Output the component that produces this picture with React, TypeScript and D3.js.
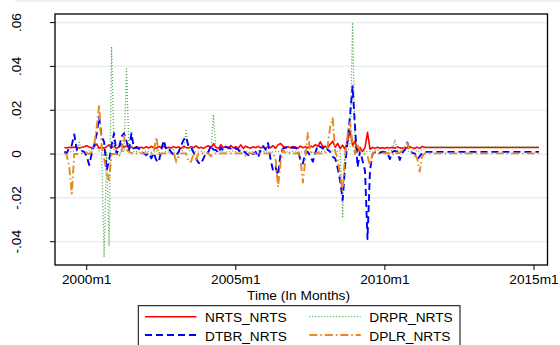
import React from "react";
import * as d3 from "d3";

// month index 0 = 2000m1; first observation is 1999m4
const START_MONTH = -9;

const NRTS_NRTS = [
  .003,.0028,.0031,.0029,.0032,.003,.0028,.0031,.0033,
  .0038,.0032,.0028,.0035,.0046,.0026,.0032,.0027,.0034,.0042,.0028,.0036,
  .0025,.0033,.0046,.003,.0038,.0027,.0032,.0026,.0034,.0029,.0031,.0027,
  .0033,.0028,.0035,.0029,.0026,.0034,.003,.0036,.0027,.0031,.0028,.0034,
  .0029,.0033,.0026,.0035,.003,.0027,.0034,.0029,.0037,.0028,.0031,.0026,
  .0033,.0038,.0027,.0047,.0031,.0026,.0043,.0029,.0035,.0025,.0039,.0028,
  .0034,.0027,.0042,.0026,.0036,.003,.0027,.0033,.0029,.0035,.0028,.0032,
  .0027,.0034,.0029,.0038,.0026,.0042,.0048,.0036,.0028,.0033,.0029,.0035,
  .0031,.0027,.0036,.0029,.0034,.0028,.0037,.0032,.0043,.0035,.0056,.0033,
  .0036,.003,.0045,.0058,.0031,.0049,.0025,.004,.0022,.006,.0106,.004,
  .006,.0012,.003,.0012,.003,.0099,.0022,.003,.0026,.0031,.0027,.0029,
  .0026,.003,.0028,.0031,.0027,.0032,.0029,.0026,.0031,.0028,.0033,.0029,
  .0027,.0031,.0026,.0035,.003,.003,.003,.003,.003,.003,.003,.003,
  .003,.003,.003,.003,.003,.003,.003,.003,.003,.003,.003,.003,
  .003,.003,.003,.003,.003,.003,.003,.003,.003,.003,.003,.003,
  .003,.003,.003,.003,.003,.003,.003,.003,.003,.003,.003,.003,
  .003,.003,.003,
];

const DTBR_NRTS = [
  .001,.0005,.003,.004,.009,.002,.0015,.0015,.001,
  -.001,-.005,.000,.004,.009,.017,.008,.0056,-.0075,-.003,.004,.0095,
  .000,.0027,.008,.0095,.006,.0015,.0095,.0026,.003,.0025,.001,.0003,
  -.0005,.0005,-.002,.0005,-.0027,-.0037,.002,.0062,.002,.0025,.0009,-.0005,
  -.0005,.001,.004,.0065,.0078,.0035,.003,.0008,-.002,-.004,-.0045,-.002,
  .0005,.001,.004,.002,.0018,.0005,.003,.0015,.0033,.003,.0025,.0033,
  .0025,.002,.001,.0015,.0005,-.0005,.0005,.000,.001,-.0015,.002,.0037,
  .002,.005,-.0027,-.0075,-.006,-.0096,.000,.0026,.003,.0032,.003,.0028,
  .003,.002,-.0027,-.0043,.0005,.001,-.001,-.0035,.0005,.004,.0033,.0025,
  .004,.002,.001,-.0012,-.002,-.0065,-.0122,-.021,-.005,.006,.018,.031,
  .012,-.006,.0015,-.003,-.0076,-.0388,-.0076,.000,.0008,.0012,.0005,.001,
  .0008,.0005,-.0023,.001,.0015,.001,-.0027,.0005,.002,.0053,.002,.0005,
  .0003,-.0023,-.001,.0005,.001,.001,.001,.001,.001,.001,.001,.001,
  .001,.001,.001,.001,.001,.001,.001,.001,.001,.001,.001,.001,
  .001,.001,.001,.001,.001,.001,.001,.001,.001,.001,.001,.001,
  .001,.001,.001,.001,.001,.001,.001,.001,.001,.001,.001,.001,
  .001,.001,.001,
];

const DRPR_NRTS = [
  .001,.0008,.0012,.001,.0015,.0015,.0054,.001,.0012,
  .001,.0015,.002,.004,.003,.0015,.002,-.047,.001,-.042,.049,.002,
  .001,-.001,.002,.001,.039,.002,.004,.001,.0012,.0008,.001,.0012,
  .001,.0012,.0008,.001,.0015,.001,-.0005,.001,.0012,.0008,.001,.002,
  -.0043,.001,.0012,.002,.0107,.002,.001,.0012,.0008,.001,.0012,.001,
  .0008,.001,.002,.018,.002,.001,.0012,.0008,.001,.0012,.001,.0015,
  .001,.0012,.0008,.001,.0015,.001,.0008,.0012,.001,.0015,.001,.0012,
  .001,.0012,.0008,.001,.0012,.001,.0015,.001,.0012,.0008,.001,.0012,
  .001,.0012,.0008,.001,.0015,.0012,.001,.0008,.0012,.001,.0015,.001,
  .0015,.002,.001,.0015,.002,.001,.0015,-.0286,.002,.0015,.003,.06,
  .001,.0015,.002,.001,.0015,.001,.0012,.001,.0015,.002,.001,.0015,
  .001,.0015,.002,.0015,.0067,.002,.001,.0015,.002,.0015,.001,.0015,
  .002,.001,.0015,.002,.0034,.0034,.0034,.0034,.0034,.0034,.0034,.0034,
  .0034,.0034,.0034,.0034,.0034,.0034,.0034,.0034,.0034,.0034,.0034,.0034,
  .0034,.0034,.0034,.0034,.0034,.0034,.0034,.0034,.0034,.0034,.0034,.0034,
  .0034,.0034,.0034,.0034,.0034,.0034,.0034,.0034,.0034,.0034,.0034,.0034,
  .0034,.0034,.0034,
];

const DPLR_NRTS = [
  .0005,-.0005,-.006,-.018,.000,.000,.000,.0003,.0003,
  .0005,.000,.001,.004,.012,.0224,.004,-.002,-.008,-.012,.000,.000,
  .000,-.001,.001,.0085,.002,.001,.0005,.000,.0003,.0003,.0003,.0003,
  .0003,.0003,.000,.001,.0078,.000,.0003,.0003,.0003,.0003,.0003,.0003,
  -.003,-.0015,.0003,.0003,.0003,-.0035,-.0035,.0003,-.0025,.0003,.0003,.0003,
  .0003,.0003,-.001,.0003,.0003,.0003,.0003,.0003,.0003,.0003,.0003,.0003,
  .0003,.0003,.0003,.0003,-.0008,.0003,.0003,.0003,.0003,.0003,.0003,.0003,
  .0003,.0003,.0003,.0003,-.002,-.015,-.004,.002,.0005,.0005,.0005,.0003,
  .0003,.0005,-.002,-.013,-.002,.0096,.001,.0003,.0003,.0005,.0003,.0003,
  .0003,.004,.0125,.0163,.001,-.002,-.010,-.0167,.000,.009,.0145,.0046,
  .000,.0046,.0015,.0005,.000,-.001,-.005,.0003,.0005,.0003,.0003,.0005,
  .0003,.0005,.0003,-.0005,.001,.0003,.0005,.002,.003,.005,.002,.0005,
  -.0005,-.002,-.008,-.001,.0003,.0003,.0003,.0003,.0003,.0003,.0003,.0003,
  .0003,.0003,.0003,.0003,.0003,.0003,.0003,.0003,.0003,.0003,.0003,.0003,
  .0003,.0003,.0003,.0003,.0003,.0003,.0003,.0003,.0003,.0003,.0003,.0003,
  .0003,.0003,.0003,.0003,.0003,.0003,.0003,.0003,.0003,.0003,.0003,.0003,
  .0003,.0003,.0003,
];

const Y_TICKS = [-0.04, -0.02, 0, 0.02, 0.04, 0.06];
const Y_TICK_LABELS = ["-.04", "-.02", "0", ".02", ".04", ".06"];
const X_TICKS = [0, 60, 120, 180];
const X_TICK_LABELS = ["2000m1", "2005m1", "2010m1", "2015m1"];

const SERIES = [
  { name: "NRTS_NRTS", values: NRTS_NRTS, color: "#ff0000", width: 1.6, dash: "none" },
  { name: "DRPR_NRTS", values: DRPR_NRTS, color: "#4aa84a", width: 1.3, dash: "1 2" },
  { name: "DTBR_NRTS", values: DTBR_NRTS, color: "#0000ff", width: 1.9, dash: "7 4" },
  { name: "DPLR_NRTS", values: DPLR_NRTS, color: "#e8891c", width: 1.9, dash: "8 3 1.5 3" },
];

const FONT = "'Liberation Sans', Arial, Helvetica, sans-serif";

export default function App() {
  const W = 560, H = 345;
  const L = 55, R = 547.5, T = 14, B = 265;
  const x = d3.scaleLinear().domain([0, 180]).range([86.7, 534]);
  const y = d3.scaleLinear().domain([-0.04, 0.06]).range([241.7, 22.6]);

  const line = d3
    .line<number>()
    .x((_, i) => x(START_MONTH + i))
    .y((d) => y(d));

  const legendItems = [
    { s: SERIES[0], lx: 145, tx: 205, ly: 316.7, ty: 322.3 },
    { s: SERIES[1], lx: 309.3, tx: 369.3, ly: 316.7, ty: 322.3 },
    { s: SERIES[2], lx: 145, tx: 205, ly: 335, ty: 340.5 },
    { s: SERIES[3], lx: 309.3, tx: 369.3, ly: 335, ty: 340.5 },
  ];

  return (
    <svg
      width={W}
      height={H}
      style={{ position: "absolute", left: 0, top: 0, background: "#ffffff" }}
      fontFamily={FONT}
    >
      <rect x={0} y={0} width={W} height={H} fill="#ffffff" />
      <line x1={15} x2={W} y1={1} y2={1} stroke="#e4e4e4" strokeWidth={1} />
      {Y_TICKS.map((t) => (
        <line key={"g" + t} x1={L} x2={R} y1={y(t)} y2={y(t)} stroke="#e3ecef" strokeWidth={1.2} />
      ))}
      <g fill="none" strokeLinejoin="round">
        {SERIES.map((s) => (
          <path
            key={s.name}
            d={line(s.values) || ""}
            stroke={s.color}
            strokeWidth={s.width}
            strokeDasharray={s.dash}
          />
        ))}
      </g>
      <rect x={L} y={T} width={R - L} height={B - T} fill="none" stroke="#000" strokeWidth={1.3} />
      {Y_TICKS.map((t, i) => (
        <g key={"y" + t}>
          <line x1={L - 5} x2={L} y1={y(t)} y2={y(t)} stroke="#000" strokeWidth={1} />
          <text
            transform={`translate(20.7,${y(t)}) rotate(-90)`}
            textAnchor="middle"
            fontSize={13.7}
            fill="#000"
          >
            {Y_TICK_LABELS[i]}
          </text>
        </g>
      ))}
      {X_TICKS.map((t, i) => (
        <g key={"x" + t}>
          <line x1={x(t)} x2={x(t)} y1={B} y2={B + 5} stroke="#000" strokeWidth={1} />
          <text x={x(t)} y={284} textAnchor="middle" fontSize={13.7} fill="#000">
            {X_TICK_LABELS[i]}
          </text>
        </g>
      ))}
      <text x={298.5} y={300} textAnchor="middle" fontSize={13.7} fill="#000">
        Time (In Months)
      </text>
      <rect x={138.3} y={305.7} width={321.7} height={60} fill="#fff" stroke="#000" strokeWidth={1} />
      {legendItems.map((it) => (
        <g key={"l" + it.s.name}>
          <line
            x1={it.lx}
            x2={it.lx + 51.5}
            y1={it.ly}
            y2={it.ly}
            stroke={it.s.color}
            strokeWidth={it.s.width}
            strokeDasharray={it.s.dash}
          />
          <text x={it.tx} y={it.ty} fontSize={13.7} fill="#000">
            {it.s.name}
          </text>
        </g>
      ))}
    </svg>
  );
}
